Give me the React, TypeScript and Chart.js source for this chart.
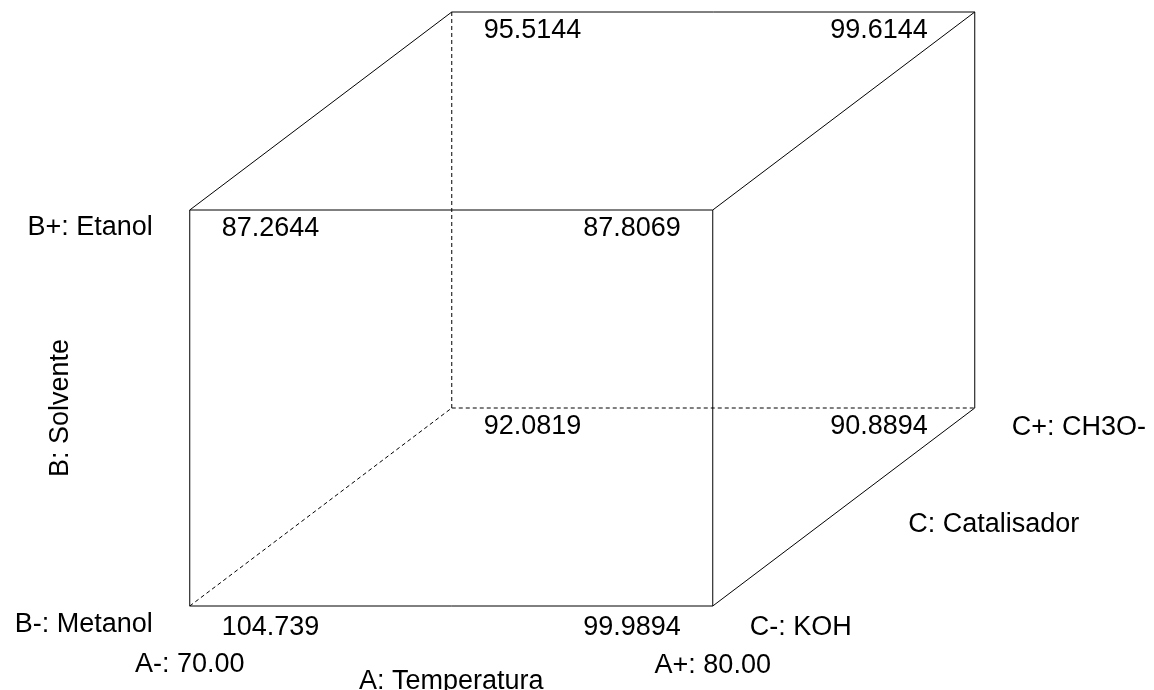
import React, { useEffect, useRef } from "react";
import { Chart, registerables } from "chart.js";

Chart.register(...registerables);

// Factor levels of the 8 cube corners (coded units)
const aLevels = [-1, 1, -1, 1, -1, 1, -1, 1];
const bLevels = [-1, -1, 1, 1, -1, -1, 1, 1];
const cLevels = [-1, -1, -1, -1, 1, 1, 1, 1];
// Response at each corner
const responseValues = [104.739, 99.9894, 87.2644, 87.8069, 92.0819, 90.8894, 95.5144, 99.6144];
const responseLabels = ["104.739", "99.9894", "87.2644", "87.8069", "92.0819", "90.8894", "95.5144", "99.6144"];

// Factor names and level labels
const factorATitle = "A: Temperatura";
const factorALevels = ["A-: 70.00", "A+: 80.00"];
const factorBTitle = "B: Solvente";
const factorBLevels = ["B-: Metanol", "B+: Etanol"];
const factorCTitle = "C: Catalisador";
const factorCLevels = ["C-: KOH", "C+: CH3O-"];

// Cube edges (corner index pairs); hidden edges drawn dashed
const edges: [number, number][] = [
  [0, 1], [2, 3], [4, 5], [6, 7],
  [0, 2], [1, 3], [4, 6], [5, 7],
  [0, 4], [1, 5], [2, 6], [3, 7],
];
const hiddenCorner = 4;

const DEPTH_X = 131 / 261.5;
const DEPTH_Y = 99 / 198;
const projX = (i: number) => aLevels[i] + DEPTH_X * cLevels[i];
const projY = (i: number) => bLevels[i] + DEPTH_Y * cLevels[i];

const FONT = "27px 'Liberation Sans', Arial, sans-serif";

const labelPlugin = {
  id: "cubeLabels",
  afterDatasetsDraw(chart: any) {
    const { ctx } = chart;
    const xs = chart.scales.x;
    const ys = chart.scales.y;
    const px = (i: number) => xs.getPixelForValue(projX(i));
    const py = (i: number) => ys.getPixelForValue(projY(i));
    ctx.save();
    ctx.font = FONT;
    ctx.fillStyle = "#000";
    ctx.textBaseline = "alphabetic";
    // corner values
    for (let i = 0; i < responseValues.length; i++) {
      const x = px(i);
      const y = py(i);
      const dy = cLevels[i] < 0 && bLevels[i] < 0 ? 29 : 26;
      if (aLevels[i] < 0) {
        ctx.textAlign = "left";
        ctx.fillText(responseLabels[i], x + 32, y + dy);
      } else {
        ctx.textAlign = "right";
        ctx.fillText(responseLabels[i], x - (cLevels[i] < 0 ? 32 : 47), y + dy);
      }
    }
    // B labels (left of front face)
    ctx.textAlign = "right";
    ctx.fillText(factorBLevels[1], px(2) - 37, py(2) + 25);
    ctx.fillText(factorBLevels[0], px(0) - 37, py(0) + 26);
    // A labels (below front face)
    ctx.textAlign = "center";
    ctx.fillText(factorALevels[0], px(0), py(0) + 66);
    ctx.fillText(factorALevels[1], px(1), py(1) + 67);
    ctx.fillText(factorATitle, (px(0) + px(1)) / 2, py(0) + 83);
    // C labels
    ctx.textAlign = "left";
    ctx.fillText(factorCLevels[0], px(1) + 37, py(1) + 29);
    ctx.fillText(factorCLevels[1], px(5) + 37, py(5) + 27);
    ctx.textAlign = "center";
    ctx.fillText(factorCTitle, (px(1) + px(5)) / 2 + 150, (py(1) + py(5)) / 2 + 25);
    // B title rotated
    ctx.save();
    ctx.translate(px(0) - 122, (py(0) + py(2)) / 2);
    ctx.rotate(-Math.PI / 2);
    ctx.textAlign = "center";
    ctx.fillText(factorBTitle, 0, 0);
    ctx.restore();
    ctx.restore();
  },
};

export default function App() {
  const ref = useRef<HTMLCanvasElement>(null);
  useEffect(() => {
    if (!ref.current) return;
    const datasets = edges.map(([a, b]) => {
      const hidden = a === hiddenCorner || b === hiddenCorner;
      return {
        data: [
          { x: projX(a), y: projY(a) },
          { x: projX(b), y: projY(b) },
        ],
        showLine: true,
        borderColor: "#000",
        borderWidth: 1,
        borderDash: hidden ? [4, 3] : [],
        pointRadius: 0,
        fill: false,
      };
    });
    const chart = new Chart(ref.current, {
      type: "scatter",
      data: { datasets },
      options: {
        animation: false,
        responsive: true,
        maintainAspectRatio: false,
        layout: { padding: 0 },
        plugins: { legend: { display: false }, tooltip: { enabled: false } },
        events: [],
        scales: {
          x: { type: "linear", display: false, min: -582.25 / 261.5, max: (1154 - 582.25) / 261.5 },
          y: { type: "linear", display: false, min: (309 - 690) / 198, max: 309 / 198 },
        },
      },
      plugins: [labelPlugin],
    });
    return () => chart.destroy();
  }, []);
  return (
    <div style={{ position: "absolute", left: 0, top: 0, width: 1154, height: 690, background: "#fff" }}>
      <canvas ref={ref} />
    </div>
  );
}
